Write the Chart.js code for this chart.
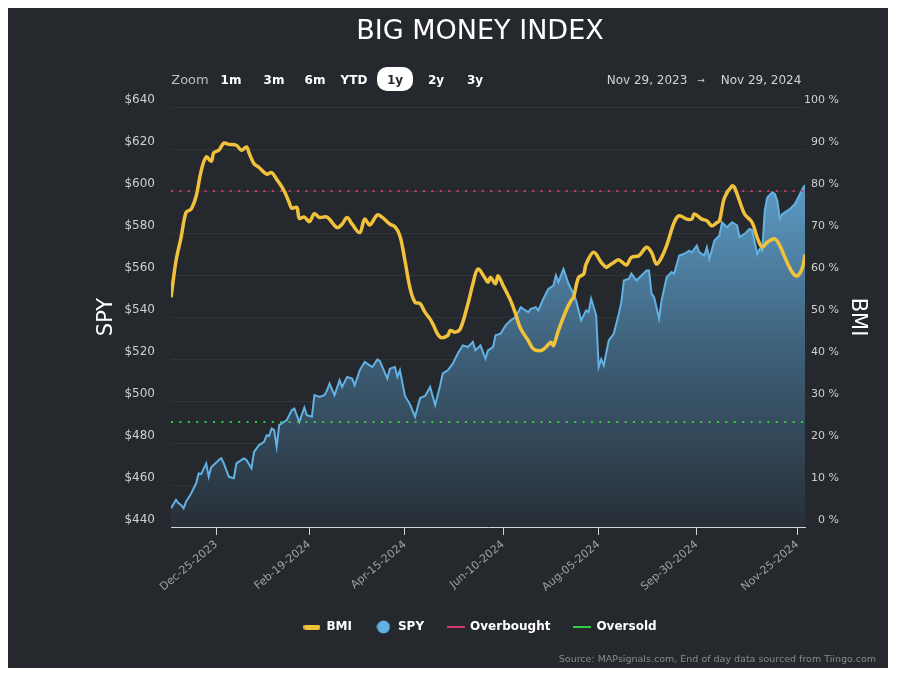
<!DOCTYPE html>
<html>
<head>
<meta charset="utf-8">
<script src="https://cdn.jsdelivr.net/npm/chart.js@4.4.0/dist/chart.umd.min.js"></script>
<style>
  html, body { margin: 0; padding: 0; background: #fff; }
  body { width: 898px; height: 677px; position: relative; overflow: hidden; font-family: "DejaVu Sans", sans-serif; }
  #panel { position: absolute; left: 8px; top: 8px; width: 880px; height: 660px; background: #25282c; }
  #chart { position: absolute; left: 0; top: 0; }
  .t { position: absolute; top: 80px; transform: translate(-50%, -50%); white-space: nowrap; line-height: 14px; }
  .zl { font-size: 13px; color: #bdbdbd; }
  .zb { font-size: 12px; font-weight: bold; color: #ffffff; }
  .pill { position: absolute; left: 377px; top: 67px; width: 36px; height: 24px; border-radius: 10px; background: #ffffff; }
  .zs { color: #25282c; }
  .dr { font-size: 12px; color: #d2d2d2; }
  .ar { font-size: 9px; color: #d2d2d2; }
  #source { position: absolute; right: 22px; top: 653px; font-size: 9.5px; line-height: 12px; color: #8a8a8a; white-space: nowrap; }
</style>
</head>
<body>
<div id="panel"></div>
<canvas id="chart" width="898" height="677"></canvas>

<span class="t zl" style="left:190px">Zoom</span>
<span class="t zb" style="left:231px">1m</span>
<span class="t zb" style="left:274px">3m</span>
<span class="t zb" style="left:315px">6m</span>
<span class="t zb" style="left:354px">YTD</span>
<div class="pill"></div>
<span class="t zb zs" style="left:395px">1y</span>
<span class="t zb" style="left:436px">2y</span>
<span class="t zb" style="left:475px">3y</span>

<span class="t dr" style="left:647px">Nov 29, 2023</span>
<span class="t ar" style="left:701px">→</span>
<span class="t dr" style="left:761px">Nov 29, 2024</span>

<div id="source">Source: MAPsignals.com, End of day data sourced from Tiingo.com</div>

<script>
// trading-day index (0 = Nov 29, 2023 ... 252 = Nov 29, 2024)
const tickDays = [18, 55, 93, 132, 170, 209, 249];
const tickLabels = ['Dec-25-2023', 'Feb-19-2024', 'Apr-15-2024', 'Jun-10-2024', 'Aug-05-2024', 'Sep-30-2024', 'Nov-25-2024'];

const bmiDays = [0,2,4,6,8,10,12,14,16,17,19,21,23,26,28,30,31,33,35,38,40,42,45,47,48,50,51,53,55,57,59,62,66,68,70,72,75,77,79,82,84,87,89,91,93,95,97,99,101,103,104,107,110,111,113,115,118,120,122,125,126,127,129,130,132,135,137,139,142,144,147,149,151,152,154,157,159,160,162,164,165,168,171,173,174,176,178,181,183,186,189,191,193,195,197,200,202,205,207,208,211,213,215,217,218,220,223,224,226,228,231,233,235,237,240,242,244,247,249,251,252];
const bmiValues = [54.7,63.4,68.9,74.9,75.7,78.8,84.8,88.1,87.1,89.1,89.7,91.4,91.1,90.9,89.7,90.5,89.1,86.5,85.6,84.0,84.4,82.8,80.0,77.2,75.9,76.1,73.5,73.8,72.7,74.6,73.7,73.8,71.3,72.1,73.7,72.1,70.1,73.3,71.9,74.3,73.7,72.1,71.5,69.3,63.4,56.9,53.5,53.2,51.1,49.5,48.4,45.2,45.6,46.8,46.4,47.2,53.1,57.9,61.4,59.1,58.3,59.4,57.9,59.8,57.5,53.9,50.7,47.2,44.4,42.4,42.0,42.8,44.0,43.2,46.8,51.5,53.9,54.7,59.4,60.2,62.6,65.4,63.0,61.8,62.2,63.0,63.6,62.4,64.2,64.6,66.6,65.4,62.6,64.2,67.0,72.5,74.1,73.3,73.3,74.5,73.3,72.9,71.7,72.5,72.9,78.4,81.2,80.8,77.6,74.5,72.5,68.9,66.6,67.8,68.6,67.0,64.2,60.6,59.8,61.8,64.9];

const spyDays = [0,2,3,4,5,6,8,10,11,12,14,15,16,19,20,21,23,25,26,27,29,30,32,33,35,37,38,39,40,41,42,43,45,46,48,49,51,53,54,56,57,59,61,62,63,65,67,68,70,72,73,75,77,79,80,82,83,84,86,87,89,90,91,93,95,97,99,101,103,105,107,108,110,112,114,116,118,120,121,123,125,126,128,129,131,133,135,137,139,141,142,143,145,146,148,150,152,153,154,156,158,160,161,163,165,166,167,169,170,171,172,174,176,178,179,180,182,183,185,187,189,190,191,192,194,195,197,199,200,202,204,206,207,209,210,212,213,214,216,218,219,221,223,224,225,226,228,230,231,233,234,235,236,237,239,240,241,242,243,246,248,250,251,252];
const spyValues = [448.9,452.9,451.3,450.5,448.9,452.1,456.0,460.8,465.5,465.2,470.3,463.9,468.4,471.9,472.7,470.3,463.9,463.2,470.3,471.1,472.7,471.9,467.9,475.8,479.0,480.6,483.7,483.3,486.9,486.1,478.2,488.5,490.1,490.9,495.6,496.4,490.1,496.9,493.2,492.5,502.8,501.9,502.8,505.1,508.3,502.8,509.9,506.7,511.5,510.7,507.5,514.6,518.6,517.0,516.2,519.7,519.1,516.2,510.7,515.4,516.2,511.5,514.6,502.4,498.4,492.5,501.4,502.4,506.7,498.0,507.5,513.1,514.6,517.8,522.6,526.5,525.7,528.1,524.1,526.5,520.2,524.1,525.7,531.3,532.1,536.0,538.4,540.0,544.7,543.1,542.3,543.9,544.7,543.1,548.7,553.4,555.0,559.8,556.6,562.9,555.8,551.1,547.9,538.4,543.1,542.3,548.7,540.8,516.2,519.9,516.9,528.9,532.1,541.6,547.1,557.4,558.2,560.6,557.4,559.8,562.1,562.1,551.1,549.5,539.2,547.9,558.9,561.4,560.6,569.3,570.1,571.6,570.8,574.0,570.8,569.3,573.2,567.7,576.4,578.8,585.1,582.7,585.1,584.4,583.6,578.0,579.6,582.0,581.2,570.1,572.4,571.6,590.6,596.9,599.4,598.6,595.4,586.7,589.1,591.4,593.8,598.6,600.9,602.9];

const overbought = 80;
const oversold = 25;
const lastDay = 252;

const FONT = '"DejaVu Sans", sans-serif';
const BMI_COLOR = '#f0c23b';
const SPY_COLOR = '#62b1e4';
const OB_COLOR = '#d9356a';
const OS_COLOR = '#2fcc45';

// small canvases used as legend symbols
function icon(w, h, draw) {
    const c = document.createElement('canvas');
    c.width = w; c.height = h;
    draw(c.getContext('2d'));
    return c;
}
const legendIcons = [
    icon(17, 5, g => { g.fillStyle = BMI_COLOR; g.beginPath(); g.roundRect(0, 0, 17, 5, 2.5); g.fill(); }),
    icon(14, 14, g => { g.fillStyle = SPY_COLOR; g.beginPath(); g.arc(7, 7, 6.5, 0, Math.PI * 2); g.fill(); }),
    icon(18, 2, g => { g.fillStyle = OB_COLOR; g.fillRect(0, 0, 18, 2); }),
    icon(18, 2, g => { g.fillStyle = OS_COLOR; g.fillRect(0, 0, 18, 2); })
];

function spyFill(c) {
    const { chartArea, ctx } = c.chart;
    if (!chartArea) return 'transparent';
    const g = ctx.createLinearGradient(0, chartArea.top, 0, chartArea.bottom);
    g.addColorStop(0, '#6cb2df');
    g.addColorStop(0.2, '#5b98c2');
    g.addColorStop(0.58, '#3e6079');
    g.addColorStop(1, '#272f37');
    return g;
}

new Chart(document.getElementById('chart'), {
    type: 'line',
    data: {
        datasets: [
            {
                label: 'BMI',
                data: bmiDays.map((d, i) => ({ x: d, y: bmiValues[i] })),
                yAxisID: 'yR',
                borderColor: BMI_COLOR,
                borderWidth: 3.5,
                pointRadius: 0,
                tension: 0.35,
                order: 0
            },
            {
                label: 'SPY',
                data: spyDays.map((d, i) => ({ x: d, y: spyValues[i] })),
                yAxisID: 'y',
                borderColor: SPY_COLOR,
                borderWidth: 2,
                pointRadius: 0,
                tension: 0,
                fill: 'start',
                backgroundColor: spyFill,
                order: 3
            },
            {
                label: 'Overbought',
                data: [{ x: 0, y: overbought }, { x: lastDay, y: overbought }],
                yAxisID: 'yR',
                borderColor: OB_COLOR,
                borderWidth: 2,
                borderDash: [2, 6.4],
                pointRadius: 0,
                order: 1
            },
            {
                label: 'Oversold',
                data: [{ x: 0, y: oversold }, { x: lastDay, y: oversold }],
                yAxisID: 'yR',
                borderColor: OS_COLOR,
                borderWidth: 2,
                borderDash: [2, 6.4],
                pointRadius: 0,
                order: 2
            }
        ]
    },
    options: {
        responsive: false,
        animation: false,
        // padding balanced so title and legend centre near x = 480
        layout: { padding: { left: 121, right: 59, top: 8, bottom: 34 } },
        plugins: {
            tooltip: { enabled: false },
            title: {
                display: true,
                text: 'BIG MONEY INDEX',
                color: '#ffffff',
                font: { family: FONT, size: 27, weight: 'normal' },
                padding: { top: 8, bottom: 58.6 }
            },
            legend: {
                position: 'bottom',
                labels: {
                    usePointStyle: true,
                    pointStyleWidth: 17,
                    boxHeight: 12,
                    padding: 23,
                    color: '#ffffff',
                    font: { family: FONT, size: 12, weight: 'bold' },
                    generateLabels: chart => chart.data.datasets.map((d, i) => ({
                        text: d.label,
                        pointStyle: legendIcons[i],
                        fontColor: '#ffffff',
                        fillStyle: 'transparent',
                        strokeStyle: 'transparent',
                        lineWidth: 0,
                        datasetIndex: i
                    }))
                }
            }
        },
        scales: {
            x: {
                type: 'linear',
                min: 0,
                max: lastDay,
                afterBuildTicks: s => { s.ticks = tickDays.map(v => ({ value: v })); },
                afterFit: s => { s.height = 71; },
                ticks: {
                    autoSkip: false,
                    minRotation: 40,
                    maxRotation: 40,
                    padding: 3,
                    color: '#a0a0a0',
                    font: { family: FONT, size: 11 },
                    callback: v => tickLabels[tickDays.indexOf(v)]
                },
                grid: { drawOnChartArea: false, color: '#d4d4d4', tickLength: 8 },
                border: { color: '#d4d4d4' }
            },
            y: {
                position: 'left',
                min: 440,
                max: 640,
                afterFit: s => { s.width = 50; },
                ticks: {
                    stepSize: 20,
                    padding: 16,
                    labelOffset: -7,
                    color: '#cfcfcf',
                    font: { family: FONT, size: 12 },
                    callback: v => '$' + v
                },
                grid: { color: '#313539', drawTicks: false },
                border: { display: false },
                title: {
                    display: true,
                    text: 'SPY',
                    color: '#ffffff',
                    font: { family: FONT, size: 21 },
                    padding: { top: -27, bottom: 0 }
                }
            },
            yR: {
                position: 'right',
                min: 0,
                max: 100,
                // box ends where the right-aligned labels end; title sits beyond it
                afterFit: s => { s.width = 34; },
                ticks: {
                    stepSize: 10,
                    padding: 0,
                    crossAlign: 'far',
                    labelOffset: -7,
                    color: '#cfcfcf',
                    font: { family: FONT, size: 11 },
                    callback: v => v + ' %'
                },
                grid: { drawOnChartArea: false, drawTicks: false },
                border: { display: false },
                title: {
                    display: true,
                    text: 'BMI',
                    color: '#ffffff',
                    font: { family: FONT, size: 21 },
                    padding: { top: -31, bottom: 0 }
                }
            }
        }
    }
});
</script>
</body>
</html>
